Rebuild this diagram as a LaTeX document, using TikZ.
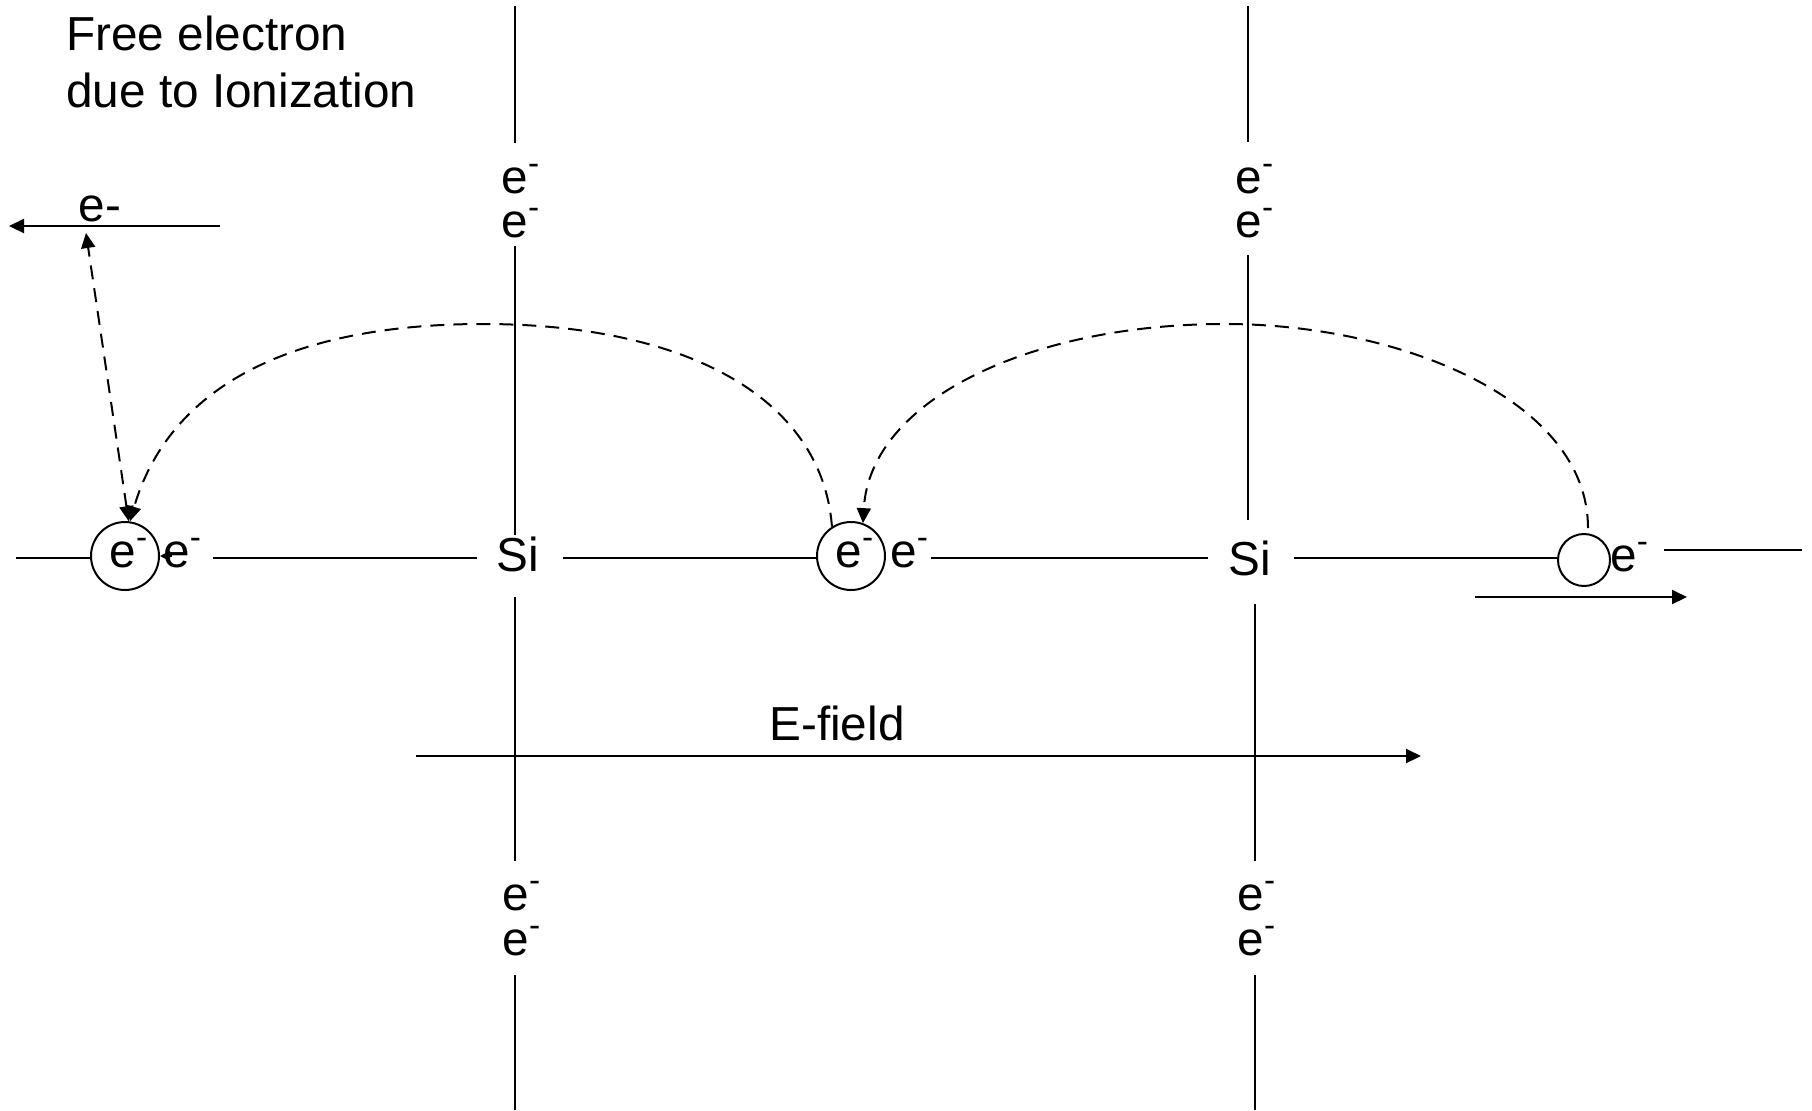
\documentclass[tikz,border=0pt]{standalone}
\usepackage{fontspec}
\setmainfont{Liberation Sans}
\usetikzlibrary{arrows.meta}
\begin{document}
\begin{tikzpicture}[x=0.5pt,y=-0.5pt,
  every node/.style={font=\fontsize{23.85pt}{28.6pt}\selectfont, inner sep=0pt},
  ln/.style={line width=1pt},
  tipr/.style={-{Triangle[length=7.5pt,width=7pt]}},
  tipb/.style={{Triangle[length=7.5pt,width=7pt]}-{Triangle[length=7.5pt,width=7pt]}},
  dsh/.style={line width=1pt, dash pattern=on 7pt off 4.5pt},
  ring/.style={circle, draw, line width=1pt, minimum size=#1}
]
\useasboundingbox (0,0) rectangle (1812,1110);

% title
\node[anchor=base west] (t1) at (66,50) {Free electron};
\node[anchor=base west] (t2) at (66,107) {due to Ionization};

% free electron
\node[anchor=base] (efree) at (100,221) {e-};
\coordinate (fa) at (220,226);
\coordinate (fb) at (9,226);
\draw[ln,tipr] (fa) -- (fb);

% circles (holes)
\node[ring=34pt] (c1) at (125,556) {};
\node[ring=34pt] (c2) at (851,556) {};
\node[ring=26pt] (c3) at (1584,560) {};
\node[anchor=base] (c1e) at (129,567) {e\textsuperscript{-}};
\node[anchor=base] (c2e) at (855,567) {e\textsuperscript{-}};
\node[anchor=base west] (e1) at (163,567) {e\textsuperscript{-}};
\node[anchor=base west] (e2) at (890,567) {e\textsuperscript{-}};
\node[anchor=base west] (e3) at (1610,571) {e\textsuperscript{-}};

% Si atoms
\node[anchor=base] (si1) at (518,571) {Si};
\node[anchor=base] (si2) at (1250,575) {Si};

% bond electrons
\node[anchor=base] (u1a) at (521,193) {e\textsuperscript{-}};
\node[anchor=base] (u1b) at (521,237) {e\textsuperscript{-}};
\node[anchor=base] (u2a) at (1255,193) {e\textsuperscript{-}};
\node[anchor=base] (u2b) at (1255,237) {e\textsuperscript{-}};
\node[anchor=base] (d1a) at (522,910) {e\textsuperscript{-}};
\node[anchor=base] (d1b) at (522,955) {e\textsuperscript{-}};
\node[anchor=base] (d2a) at (1257,910) {e\textsuperscript{-}};
\node[anchor=base] (d2b) at (1257,955) {e\textsuperscript{-}};

% E-field
\node[anchor=base] (ef) at (837,740) {E-field};
\coordinate (efa) at (416,756);
\coordinate (efb) at (1421,756);
\draw[ln,tipr] (efa) -- (efb);

% horizontal bonds
\coordinate (h0) at (16,558);
\coordinate (h1) at (213,558);
\coordinate (h2) at (477,558);
\coordinate (h3) at (563,558);
\coordinate (h4) at (931,558);
\coordinate (h5) at (1208,558);
\coordinate (h6) at (1294,558);
\coordinate (h7) at (1664,550);
\coordinate (h8) at (1802,550);
\draw[ln] (h0) -- (c1.west |- h0);
\draw[ln] (h1) -- (h2);
\draw[ln] (h3) -- (c2.west |- h3);
\draw[ln] (h4) -- (h5);
\draw[ln] (h6) -- (c3.west |- h6);
\draw[ln] (h7) -- (h8);

% vertical bonds
\coordinate (v1a) at (515,6);
\coordinate (v1b) at (515,143);
\coordinate (v1c) at (515,246);
\coordinate (v1d) at (515,535);
\coordinate (v1e) at (515,597);
\coordinate (v1f) at (515,861);
\coordinate (v1g) at (515,975);
\coordinate (v1h) at (515,1110);
\draw[ln] (v1a) -- (v1b);
\draw[ln] (v1c) -- (v1d);
\draw[ln] (v1e) -- (v1f);
\draw[ln] (v1g) -- (v1h);
\coordinate (v2a) at (1248,6);
\coordinate (v2b) at (1248,142);
\coordinate (v2c) at (1248,255);
\coordinate (v2d) at (1248,520);
\coordinate (v2e) at (1255,604);
\coordinate (v2f) at (1255,861);
\coordinate (v2g) at (1255,975);
\coordinate (v2h) at (1255,1110);
\draw[ln] (v2a) -- (v2b);
\draw[ln] (v2c) -- (v2d);
\draw[ln] (v2e) -- (v2f);
\draw[ln] (v2g) -- (v2h);

% hole motion arrow
\coordinate (ma) at (1475,597);
\coordinate (mb) at (1687,597);
\draw[ln,tipr] (ma) -- (mb);

% small arrow tip right of circle 1
\coordinate (sa) at (172,556);
\coordinate (sb) at (160,556);
\draw[ln,-{Triangle[length=5pt,width=5pt]}] (sa) -- (sb);

% ionization jump
\coordinate (jt) at (86,233);
\draw[dsh,tipb] (c1.84) -- (jt);

% electron hops
\coordinate (a2s) at (1588,528);
\draw[dsh,tipr] (c2.123) .. controls (822,396) and (683,324) .. (483,324)
   .. controls (305,324) and (172,378) .. (c1.82);
\draw[dsh,tipr] (a2s) .. controls (1588,400) and (1400,324) .. (1225,324)
   .. controls (1030,324) and (870,400) .. (c2.70);
\end{tikzpicture}
\end{document}
